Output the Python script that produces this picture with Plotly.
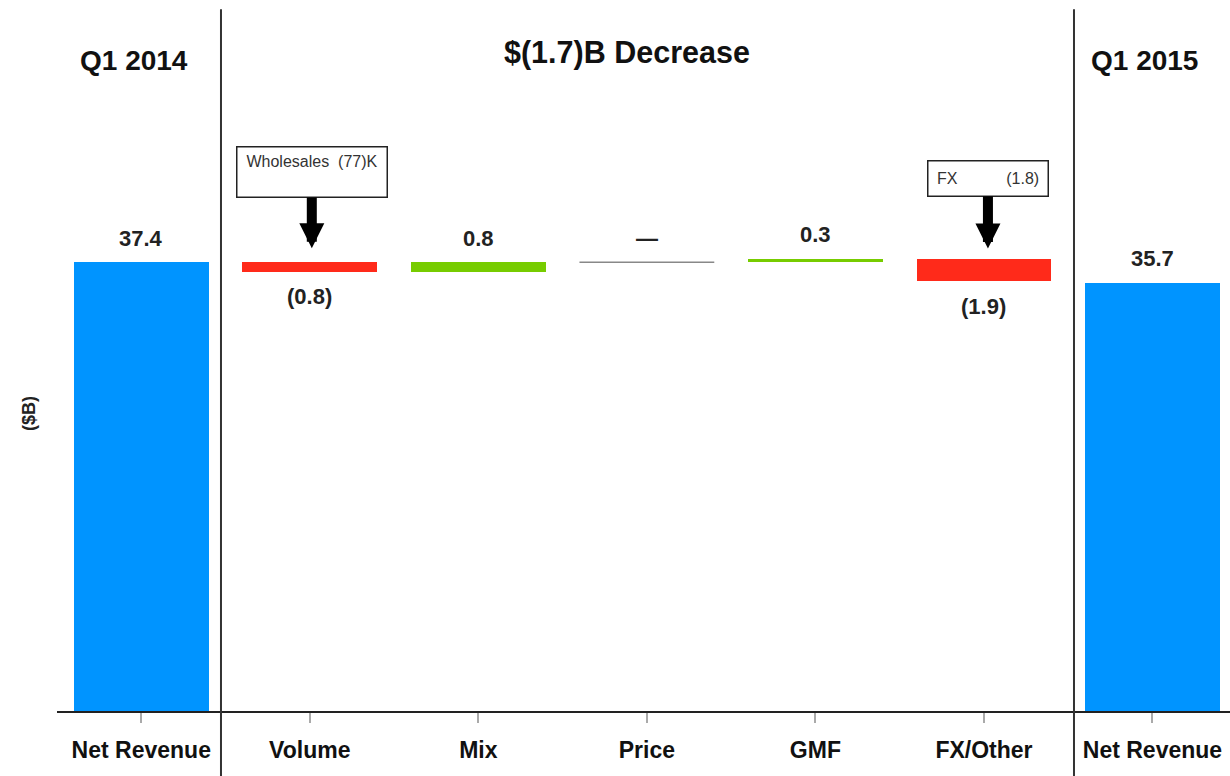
import plotly.graph_objects as go

# Net revenue bridge, Q1 2014 -> Q1 2015 ($B)
categories = ["Net Revenue", "Volume", "Mix", "Price", "GMF", "FX/Other", "Net Revenue"]
start_value = 37.4
changes = [-0.8, 0.8, 0.0, 0.3, -1.9]
end_value = 35.7
value_labels = ["37.4", "(0.8)", "0.8", "\u2014", "0.3", "(1.9)", "35.7"]

BLUE = "#0094FF"
RED = "#FF2A1A"
GREEN = "#77CC00"
GRAY = "#888888"
FONT = "Arial, Liberation Sans, sans-serif"
BAR_W = 0.8

# cumulative bases for the floating bars
bases, heights, colors = [0.0], [start_value], [BLUE]
level = start_value
for d in changes:
    lo = level + min(d, 0.0)
    bases.append(lo)
    heights.append(abs(d))
    colors.append(GREEN if d > 0 else RED)
    level += d
bases.append(0.0)
heights.append(end_value)
colors.append(BLUE)

xs = list(range(len(categories)))

fig = go.Figure()
fig.add_trace(go.Bar(
    x=xs, y=heights, base=bases, width=BAR_W,
    marker=dict(color=colors, line=dict(width=0)),
    hoverinfo="skip", showlegend=False,
))

# zero-change step (Price) drawn as a thin grey line at its running level
price_i = 3
price_level = start_value + sum(changes[:price_i])
fig.add_trace(go.Scatter(
    x=[price_i - BAR_W / 2, price_i + BAR_W / 2], y=[price_level, price_level],
    mode="lines", line=dict(color=GRAY, width=1.5),
    hoverinfo="skip", showlegend=False,
))

annotations = []
# value labels: above for totals/increases/flat, below for decreases
for i, lab in enumerate(value_labels):
    top = bases[i] + heights[i]
    if 1 <= i <= len(changes) and changes[i - 1] < 0:
        annotations.append(dict(x=i, y=bases[i], text=f"<b>{lab}</b>", showarrow=False,
                                yanchor="middle", yshift=-25, font=dict(size=22, color="#222")))
    else:
        annotations.append(dict(x=i, y=top, text=f"<b>{lab}</b>", showarrow=False,
                                yanchor="middle", yshift=24, font=dict(size=22, color="#222")))

# section headers
for txt, xp, yp, sz in [("Q1 2014", 0.0656, 0.9156, 28),
                        ("$(1.7)B Decrease", 0.486, 0.9255, 30.5),
                        ("Q1 2015", 0.9275, 0.9156, 28)]:
    annotations.append(dict(xref="paper", yref="paper", x=xp, y=yp, text=f"<b>{txt}</b>",
                            showarrow=False, xanchor="center", yanchor="middle",
                            font=dict(size=sz, color="#111")))

# axis title
annotations.append(dict(xref="paper", yref="paper", x=-0.024, y=0.419, text="<b>($B)</b>",
                        textangle=-90, showarrow=False, xanchor="center", yanchor="middle",
                        font=dict(size=18, color="#222")))

# callout boxes with arrows
vol_top = start_value
fx_top = start_value + sum(changes[:4])
nb = "\u00a0"
annotations.append(dict(
    x=1, y=vol_top, text="Wholesales" + nb * 2 + "(77)K<br> ", showarrow=True, ax=0, ay=-90,
    xshift=2, standoff=14, arrowhead=2, arrowsize=0.5, arrowwidth=10, arrowcolor="#000",
    width=149, height=49, borderpad=0, bordercolor="#222", borderwidth=1.5,
    bgcolor="#fff", align="center", valign="middle", font=dict(size=16, color="#333"),
))
annotations.append(dict(
    x=5, y=fx_top, text="FX" + nb * 11 + "(1.8)", showarrow=True, ax=0, ay=-80,
    xshift=4, standoff=10, arrowhead=2, arrowsize=0.5, arrowwidth=10, arrowcolor="#000",
    width=119, height=34, borderpad=0, bordercolor="#222", borderwidth=1.5,
    bgcolor="#fff", align="center", valign="middle", font=dict(size=16, color="#333"),
))

shapes = []
for xp in [0.1398, 0.867]:
    shapes.append(dict(type="line", xref="paper", yref="paper", x0=xp, x1=xp,
                       y0=-0.1, y1=0.987, line=dict(color="#333", width=2)))

fig.update_layout(
    width=1230, height=776,
    margin=dict(l=57, r=0, t=0, b=65),
    paper_bgcolor="#fff", plot_bgcolor="#fff",
    font=dict(family=FONT, color="#222"),
    bargap=0,
    annotations=annotations,
    shapes=shapes,
    xaxis=dict(
        range=[-0.5, 6.46], tickmode="array", tickvals=xs,
        ticktext=[f"<b>{c}</b>" for c in categories],
        tickfont=dict(size=23, color="#111"),
        ticklabelstandoff=7,
        showline=True, linecolor="#222", linewidth=2,
        ticks="outside", ticklen=10, tickcolor="#aaa", tickwidth=1.5,
        showgrid=False, zeroline=False, fixedrange=True,
    ),
    yaxis=dict(range=[0, 59.25], visible=False, fixedrange=True),
)

fig.write_html("out.html")
